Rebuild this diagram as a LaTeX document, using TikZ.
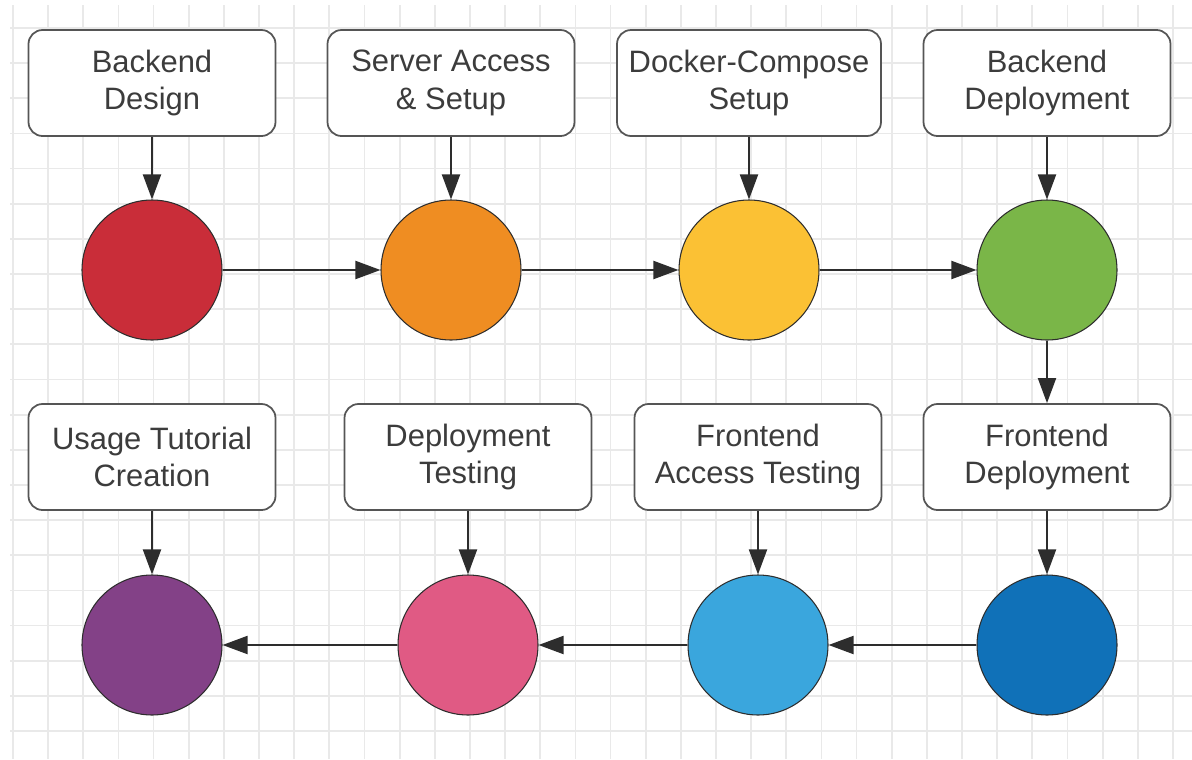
\documentclass[tikz,border=0pt]{standalone}
\usepackage{fontspec}
\setmainfont{Liberation Sans}
\usepackage{xcolor}
\usepackage{tikz}
\usetikzlibrary{arrows.meta,positioning}
\definecolor{gridgray}{RGB}{233,233,233}
\definecolor{boxgray}{RGB}{85,85,85}
\definecolor{textgray}{RGB}{60,60,60}
\definecolor{linegray}{RGB}{45,45,45}
\definecolor{stred}{RGB}{201,45,57}
\definecolor{storange}{RGB}{239,141,34}
\definecolor{styellow}{RGB}{251,193,52}
\definecolor{stgreen}{RGB}{122,182,72}
\definecolor{stpurple}{RGB}{131,65,135}
\definecolor{stpink}{RGB}{224,90,132}
\definecolor{stlblue}{RGB}{58,166,221}
\definecolor{stdblue}{RGB}{16,113,184}

\begin{document}
\begin{tikzpicture}[
box/.style={
draw,
rounded corners=8pt,
fill=white,
draw=boxgray,
line width=1pt,
minimum height=2.12cm,
minimum width=4.94cm,
align=center,
text=textgray,
font=\fontsize{17.6}{21.5}\selectfont
},
stage/.style={
circle,
draw=linegray,
line width=0.6pt,
minimum size=2.8cm,
inner sep=0pt
},
arrow/.style={
-{Triangle[length=0.5cm,width=0.36cm]},
line width=1.1pt,
draw=linegray
}
]

\useasboundingbox (0,0) rectangle (23.84,-15.18);

% background grid
\foreach \gx in {0,...,33}
  \draw[gridgray, line width=1pt] (0.26+0.703*\gx,-0.1) -- (0.26+0.703*\gx,-15.18);
\foreach \gy in {0,...,21}
  \draw[gridgray, line width=1pt] (0.2,-0.56-0.703*\gy) -- (23.84,-0.56-0.703*\gy);

% task boxes
\node[box] (t1) at (3.04,-1.66) {Backend\\Design};
\node[box] (t2) at (9.02,-1.66) {Server Access\\\& Setup};
\node[box, minimum width=5.28cm] (t3) at (14.98,-1.66) {Docker-Compose\\Setup};
\node[box] (t4) at (20.94,-1.66) {Backend\\Deployment};

\node[box] (t5) at (20.94,-9.14) {Frontend\\Deployment};
\node[box] (t6) at (15.16,-9.14) {Frontend\\Access Testing};
\node[box] (t7) at (9.36,-9.14) {Deployment\\Testing};
\node[box] (t8) at (3.04,-9.14) {Usage Tutorial\\Creation};

% stage circles
\node[stage, fill=stred] (c1) at (3.04,-5.40) {};
\node[stage, fill=storange] (c2) at (9.02,-5.40) {};
\node[stage, fill=styellow] (c3) at (14.98,-5.40) {};
\node[stage, fill=stgreen] (c4) at (20.94,-5.40) {};

\node[stage, fill=stdblue] (c5) at (20.94,-12.90) {};
\node[stage, fill=stlblue] (c6) at (15.16,-12.90) {};
\node[stage, fill=stpink] (c7) at (9.36,-12.90) {};
\node[stage, fill=stpurple] (c8) at (3.04,-12.90) {};

\draw[arrow] (t1.south) -- (c1.north);
\draw[arrow] (t2.south) -- (c2.north);
\draw[arrow] (t3.south) -- (c3.north);
\draw[arrow] (t4.south) -- (c4.north);

\draw[arrow] (c1.east) -- (c2.west);
\draw[arrow] (c2.east) -- (c3.west);
\draw[arrow] (c3.east) -- (c4.west);

\draw[arrow] (c4.south) -- (t5.north);

\draw[arrow] (t5.south) -- (c5.north);
\draw[arrow] (t6.south) -- (c6.north);
\draw[arrow] (t7.south) -- (c7.north);
\draw[arrow] (t8.south) -- (c8.north);

\draw[arrow] (c5.west) -- (c6.east);
\draw[arrow] (c6.west) -- (c7.east);
\draw[arrow] (c7.west) -- (c8.east);

\end{tikzpicture}
\end{document}
